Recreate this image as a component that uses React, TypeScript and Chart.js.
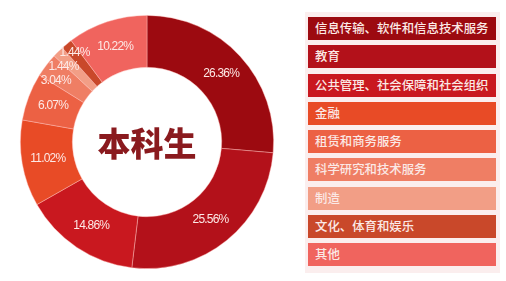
import React, { useEffect, useRef } from "react";
import { Chart, registerables } from "chart.js";

Chart.register(...registerables);

const categories = [
  "信息传输、软件和信息技术服务",
  "教育",
  "公共管理、社会保障和社会组织",
  "金融",
  "租赁和商务服务",
  "科学研究和技术服务",
  "制造",
  "文化、体育和娱乐",
  "其他",
];
const shares = [26.36, 25.56, 14.86, 11.02, 6.07, 3.04, 1.44, 1.44, 10.22];
const colors = [
  "#9c0a10",
  "#b3111a",
  "#c9181f",
  "#e84b26",
  "#ec6144",
  "#ef7e64",
  "#f29e86",
  "#c9482a",
  "#f0645e",
];
const centerTitle = "本科生";

const labelPlugin = {
  id: "sliceLabels",
  afterDatasetsDraw(chart: any) {
    const ctx = chart.ctx;
    const meta = chart.getDatasetMeta(0);
    const data = chart.data.datasets[0].data as number[];
    ctx.save();
    ctx.font = '12px "Liberation Sans", Arial, sans-serif';
    (ctx as any).letterSpacing = "-0.8px";
    ctx.fillStyle = "#fde9e6";
    ctx.textAlign = "center";
    ctx.textBaseline = "middle";
    const pos: { x: number; y: number; small: boolean; cx: number; cy: number; r: number; side: number }[] = [];
    meta.data.forEach((arc: any, i: number) => {
      const p = arc.getProps(["x", "y", "startAngle", "endAngle", "innerRadius", "outerRadius"], true);
      const mid = (p.startAngle + p.endAngle) / 2;
      const small = data[i] < 5;
      const r = (p.innerRadius + p.outerRadius) / 2 + (small ? 11 : 0);
      pos.push({
        x: p.x + Math.cos(mid) * r,
        y: p.y + Math.sin(mid) * r,
        small,
        cx: p.x,
        cy: p.y,
        r,
        side: Math.cos(mid) < 0 ? -1 : 1,
      });
    });
    // spread stacked small labels vertically so they do not overlap
    const smallIdx = pos.map((q, i) => (q.small ? i : -1)).filter((i) => i >= 0);
    if (smallIdx.length > 1) {
      const gap = 14;
      const meanY = smallIdx.reduce((s, i) => s + pos[i].y, 0) / smallIdx.length + 3;
      smallIdx.forEach((idx, k) => {
        const q = pos[idx];
        const y = meanY + ((smallIdx.length - 1) / 2) * gap - k * gap;
        const rr = q.r - 2 + k * 2.5;
        const dy = y - q.cy;
        const dx = Math.sqrt(Math.max(rr * rr - dy * dy, 0));
        q.y = y;
        q.x = q.cx + q.side * dx;
      });
    }
    pos.forEach((q, i) => ctx.fillText(data[i].toFixed(2) + "%", q.x, q.y));
    ctx.font = '900 33px "Noto Sans CJK SC", sans-serif';
    (ctx as any).letterSpacing = "0px";
    ctx.fillStyle = "#8a1a1e";
    const a = meta.data[0];
    ctx.fillText(centerTitle, a.x, a.y + 1);
    ctx.restore();
  },
};

export default function App() {
  const ref = useRef<HTMLCanvasElement>(null);
  useEffect(() => {
    if (!ref.current) return;
    const chart = new Chart(ref.current, {
      type: "doughnut",
      data: {
        labels: categories,
        datasets: [
          {
            data: shares,
            backgroundColor: colors,
            borderColor: "rgba(255,190,185,0.55)",
            borderWidth: 0.8,
          },
        ],
      },
      options: {
        animation: false,
        responsive: false,
        cutout: "59%",
        layout: { padding: { left: 20, right: 232, top: 15, bottom: 12 } },
        plugins: { legend: { display: false }, tooltip: { enabled: false } },
      },
      plugins: [labelPlugin],
    });
    return () => chart.destroy();
  }, []);

  const top0 = 17;
  const step = 28.25;
  return (
    <div style={{ position: "fixed", left: 0, top: 0, width: 506, height: 281, background: "#ffffff", overflow: "hidden" }}>
      <canvas ref={ref} width={506} height={281} style={{ position: "absolute", left: 0, top: 0 }} />
      <div style={{ position: "absolute", left: 305, top: 12, width: 195, height: 261, background: "#fbeeee" }} />
      {categories.map((c, i) => (
        <div
          key={c}
          style={{
            position: "absolute",
            left: 308,
            top: top0 + i * step,
            width: 188,
            height: 23,
            background: colors[i],
            color: "#fbe9e6",
            font: '500 12.4px "Noto Sans CJK SC", sans-serif',
            lineHeight: "23px",
            paddingLeft: 7,
            boxSizing: "border-box",
            whiteSpace: "nowrap",
          }}
        >
          {c}
        </div>
      ))}
    </div>
  );
}
